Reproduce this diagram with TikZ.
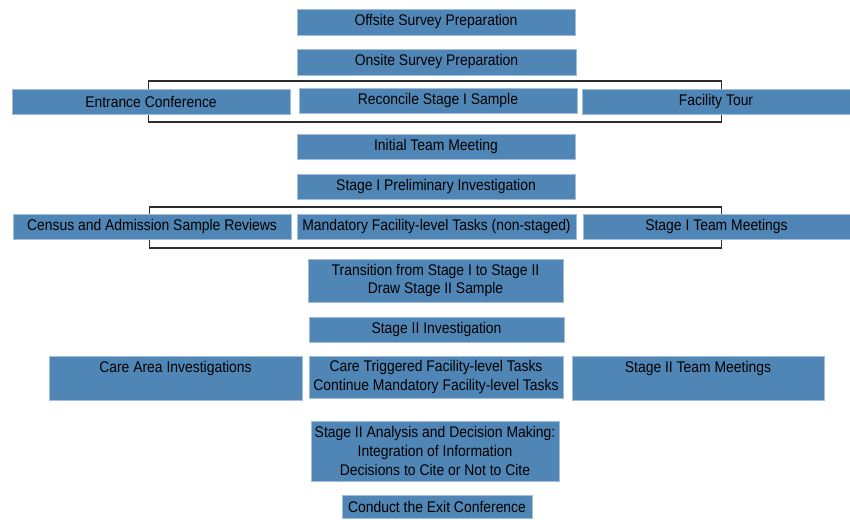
\documentclass[tikz,border=0pt]{standalone}
\usepackage{fontspec}
\setmainfont[FakeStretch=0.9]{Liberation Sans}
\usepackage{xcolor}
\usepackage{tikz}
\usetikzlibrary{positioning, backgrounds}

\definecolor{boxblue}{RGB}{79,134,181}
\definecolor{boxedge}{RGB}{160,190,218}
\definecolor{bracketline}{RGB}{45,45,45}

\begin{document}
\begin{tikzpicture}[
    x=0.02cm, y=-0.02cm,
    font=\fontsize{8.8}{10.7}\selectfont,
    % flat blue step box, size set per node
    box/.style={rectangle, draw=boxedge, line width=0.5pt, fill=boxblue, text=black, align=center, inner sep=1pt, minimum height=0.5cm},
    % single line sitting at the top of a tall box
    toptext/.style={text depth=13pt},
    grouprect/.style={rectangle, draw=bracketline, line width=0.6pt, fill=none, inner sep=0pt}
]

\useasboundingbox[fill=white] (0,0) rectangle (850,520);

% =========================================================
% PREPARATION
% =========================================================
\node[box, minimum width=5.56cm, minimum height=0.52cm] (offsite) at (436,22) {Offsite Survey Preparation};
\node[box, minimum width=5.58cm, minimum height=0.52cm] (onsite) at (436.5,62) {Onsite Survey Preparation};

% =========================================================
% ENTRANCE ROW
% =========================================================
\node[grouprect, minimum width=11.48cm, minimum height=0.82cm] (entrygroup) at (435,101.5) {};

\node[box, minimum width=5.56cm] (entrance) at (151,101.5) {Entrance Conference};
\node[box, minimum width=5.56cm] (reconcile) at (438,100.5) {Reconcile Stage I Sample};
\node[box, minimum width=5.36cm] (tour) at (716,101.5) {Facility Tour};

% =========================================================
% STAGE I
% =========================================================
\node[box, minimum width=5.56cm] (teammeet) at (436,146.5) {Initial Team Meeting};
\node[box, minimum width=5.56cm] (prelim) at (436,186.5) {Stage I Preliminary Investigation};

\node[grouprect, minimum width=11.46cm, minimum height=0.82cm] (stageonegroup) at (435.5,227.5) {};

\node[box, minimum width=5.56cm] (census) at (152,226.5) {Census and Admission Sample Reviews};
\node[box, minimum width=5.58cm] (mandatory) at (436.5,226.5) {Mandatory Facility-level Tasks (non-staged)};
\node[box, minimum width=5.34cm] (stageonemeet) at (716.5,226.5) {Stage I Team Meetings};

% =========================================================
% STAGE II
% =========================================================
\node[box, minimum width=5.10cm, minimum height=0.86cm] (transition) at (435.5,280.5) {Transition from Stage I to Stage II\\Draw Stage II Sample};
\node[box, minimum width=5.10cm] (stagetwoinv) at (436.5,329.5) {Stage II Investigation};

\node[box, toptext, minimum width=5.06cm, minimum height=0.87cm] (careinv) at (175.5,378.5) {Care Area Investigations};
\node[box, minimum width=5.08cm, minimum height=0.84cm] (caretrig) at (436,377) {Care Triggered Facility-level Tasks\\Continue Mandatory Facility-level Tasks};
\node[box, toptext, minimum width=5.04cm, minimum height=0.87cm] (stagetwomeet) at (698,378.5) {Stage II Team Meetings};

% =========================================================
% ANALYSIS AND EXIT
% =========================================================
\node[box, minimum width=4.96cm, minimum height=1.20cm] (analysis) at (435,451) {Stage II Analysis and Decision Making:\\Integration of Information\\Decisions to Cite or Not to Cite};
\node[box, minimum width=3.80cm, minimum height=0.46cm] (exit) at (437,507) {Conduct the Exit Conference};

\end{tikzpicture}
\end{document}
